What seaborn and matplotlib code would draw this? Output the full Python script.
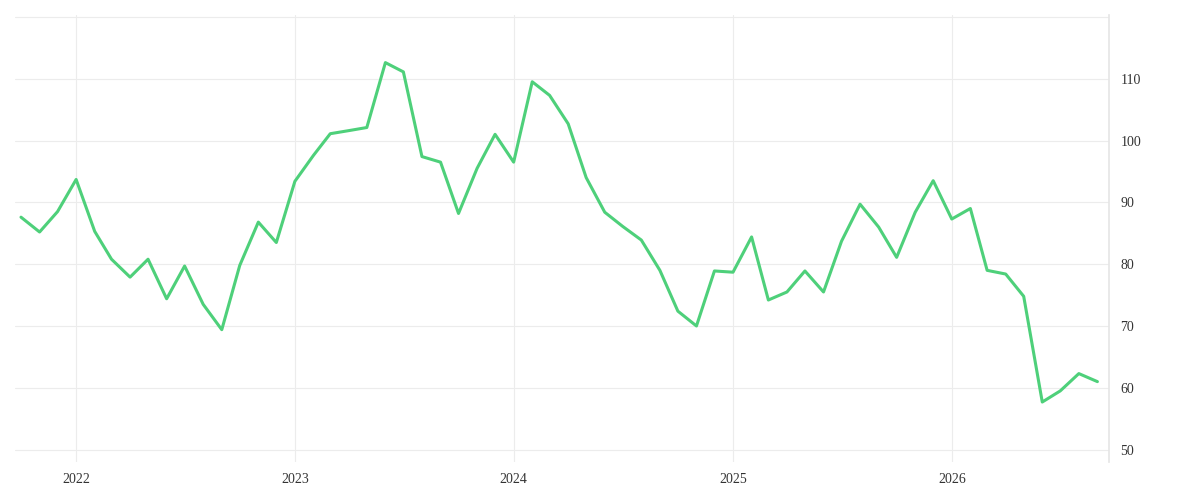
import matplotlib
matplotlib.use("Agg")
import matplotlib.pyplot as plt
import matplotlib.dates as mdates
import numpy as np
import pandas as pd
import seaborn as sns

sns.set_theme(style="white")
plt.rcParams["font.family"] = ["Liberation Serif", "DejaVu Serif"]

start_month = "2021-10-01"
values = [
    87.6, 85.2, 88.5,
    93.7, 85.3, 80.8, 77.9, 80.8, 74.4, 79.7, 73.5, 69.4, 79.8, 86.8, 83.5,
    93.4, 97.6, 101.1, 101.6, 102.1, 112.6, 111.1, 97.4, 96.5, 88.2, 95.5, 101.0,
    96.5, 109.5, 107.3, 102.7, 94.0, 88.4, 86.1, 83.9, 79.0, 72.4, 70.0, 78.9,
    78.7, 84.4, 74.2, 75.5, 78.9, 75.5, 83.7, 89.7, 86.0, 81.1, 88.4, 93.5,
    87.3, 89.0, 79.0, 78.4, 74.8, 57.7, 59.5, 62.3, 61.0,
]
dates = pd.date_range(start_month, periods=len(values), freq="MS")
df = pd.DataFrame({"date": dates, "value": values})

fig = plt.figure(figsize=(12, 5), dpi=100)
ax = fig.add_axes([0.0125, 0.076, 0.912, 0.894])
sns.lineplot(data=df, x="date", y="value", ax=ax, color="#4ed07a", linewidth=2.2)

ax.set_xlim(pd.Timestamp("2021-09-21"), pd.Timestamp("2026-09-21"))
ax.set_ylim(48, 120.3)
ax.set_yticks(range(50, 121, 10))
ax.set_yticklabels([str(v) for v in range(50, 120, 10)] + [""])
ax.xaxis.set_major_locator(mdates.YearLocator())
ax.xaxis.set_major_formatter(mdates.DateFormatter("%Y"))
ax.yaxis.tick_right()
ax.grid(True, color="#ececec", linewidth=0.8)
for s in ["top", "left", "bottom"]:
    ax.spines[s].set_visible(False)
ax.spines["right"].set_color("#e6e6e6")
ax.tick_params(axis="both", length=0, labelsize=10, colors="#333333", pad=8)
ax.set_xlabel("")
ax.set_ylabel("")

fig.savefig("out.png", dpi=100)
plt.close(fig)
